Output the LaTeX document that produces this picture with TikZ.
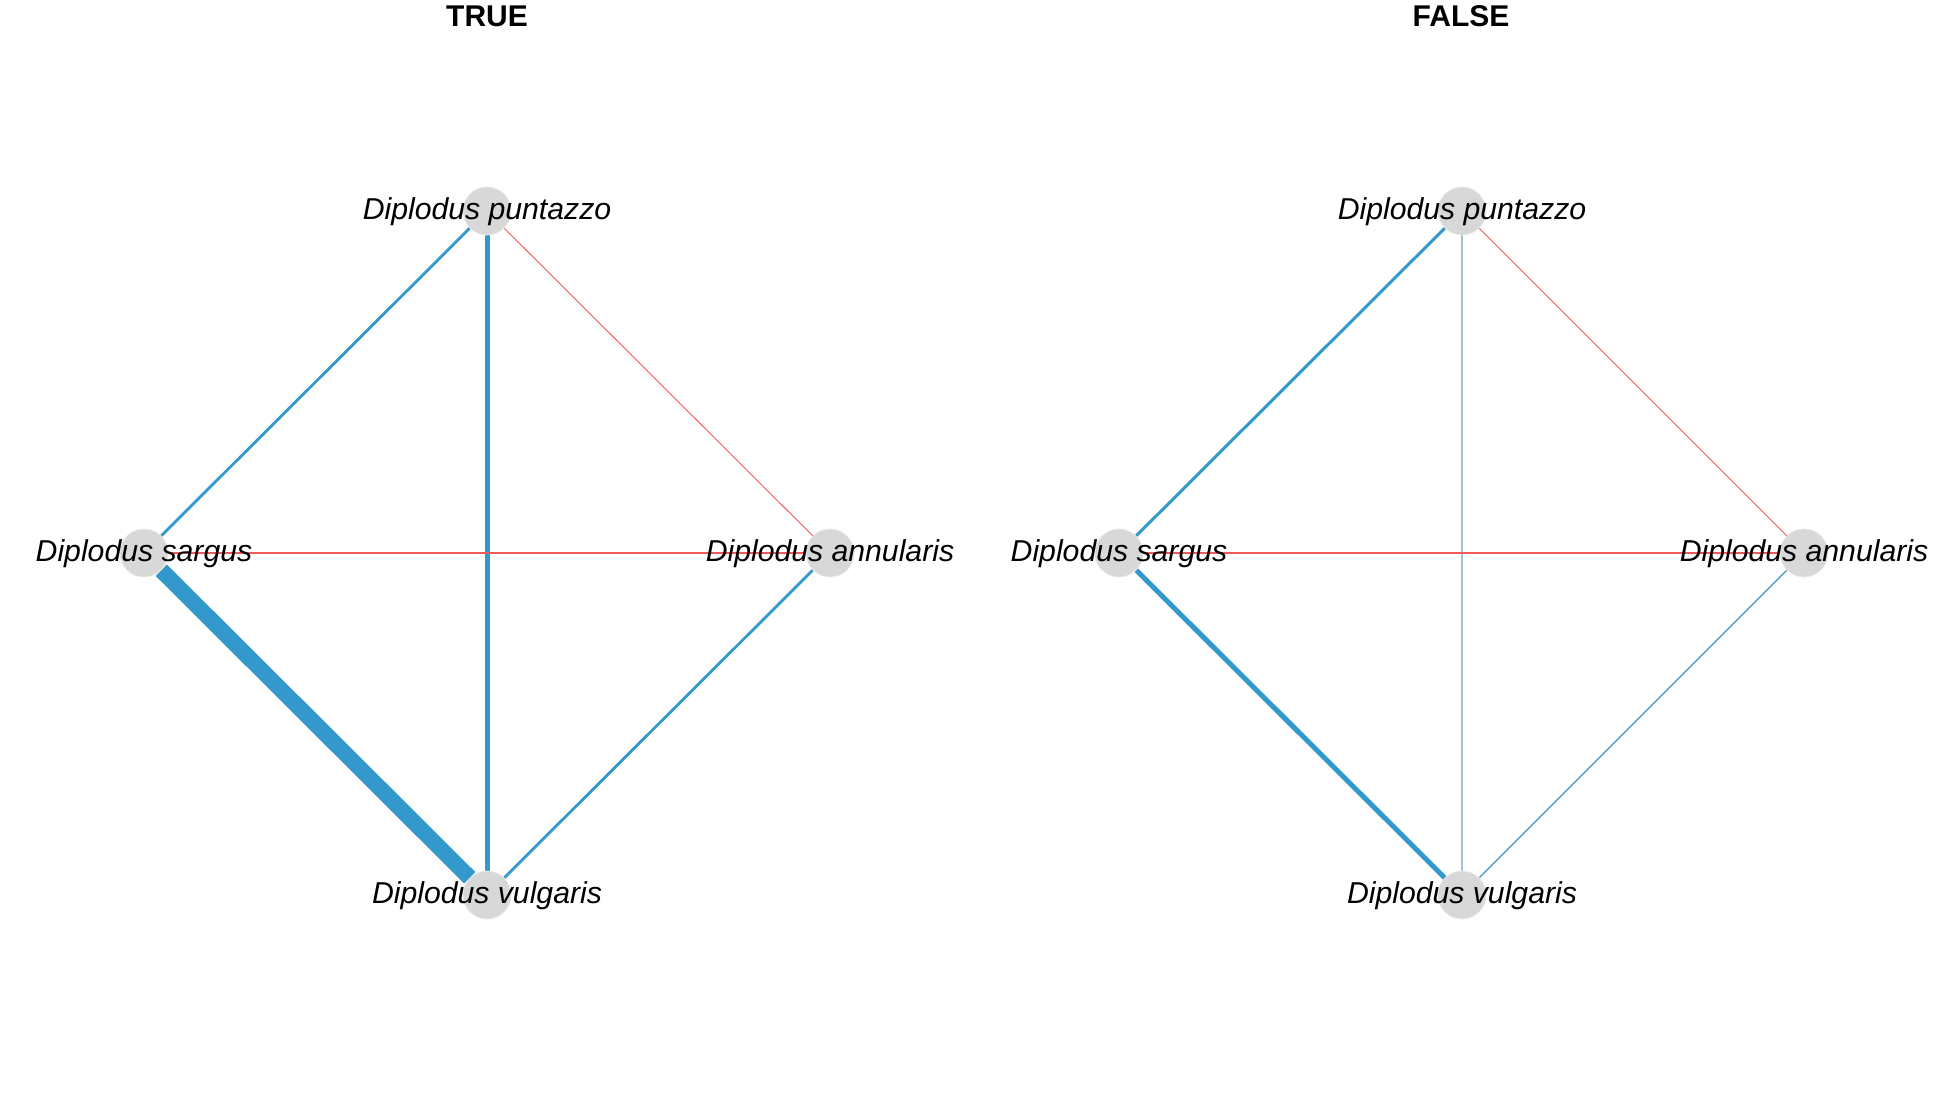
\documentclass[tikz,border=0pt]{standalone}
\usepackage{fontspec}
\setmainfont{Liberation Sans}
\usetikzlibrary{backgrounds}
\definecolor{eblue}{HTML}{3399CC}
\definecolor{ered}{HTML}{F05A5A}
\definecolor{epale}{HTML}{9FC4D0}
\definecolor{vfill}{HTML}{D8D8D8}
\begin{document}
\begin{tikzpicture}[x=0.5pt,y=-0.5pt,
 vert/.style={circle,fill=vfill,draw=vfill!60,line width=0.4pt,minimum size=24pt,inner sep=0pt},
 lab/.style={anchor=base,font=\fontsize{15.1}{17}\selectfont\itshape,inner sep=0pt},
 ttl/.style={anchor=base,font=\fontsize{15}{17}\selectfont\bfseries,inner sep=0pt},
 edge/.style={line cap=butt}]
\useasboundingbox (0,0) rectangle (1950,1107);

% titles
\node[ttl] (t1) at (487,27) {TRUE};
\node[ttl] (t2) at (1461,27) {FALSE};

% left panel nodes
\node[vert] (lp) at (487,211) {};
\node[vert] (ls) at (144,553) {};
\node[vert] (la) at (830,553) {};
\node[vert] (lv) at (487,895) {};
% right panel nodes
\node[vert] (rp) at (1462,211) {};
\node[vert] (rs) at (1119,553) {};
\node[vert] (ra) at (1804,553) {};
\node[vert] (rv) at (1462,895) {};

\begin{pgfonlayer}{background}
% left edges
\draw[edge,eblue,line width=1.4pt] (lp) -- (ls);
\draw[edge,eblue,line width=2.5pt] (lp) -- (lv);
\draw[edge,ered,line width=0.45pt] (lp) -- (la);
\draw[edge,ered,line width=0.55pt] (ls) -- (la);
\draw[edge,eblue,line width=8pt] (ls) -- (lv);
\draw[edge,eblue,line width=1.4pt] (la) -- (lv);
% right edges
\draw[edge,eblue,line width=1.5pt] (rp) -- (rs);
\draw[edge,epale,line width=0.7pt] (rp) -- (rv);
\draw[edge,ered,line width=0.45pt] (rp) -- (ra);
\draw[edge,ered,line width=0.55pt] (rs) -- (ra);
\draw[edge,eblue,line width=2.5pt] (rs) -- (rv);
\draw[edge,eblue!85!gray,line width=0.6pt] (ra) -- (rv);
\end{pgfonlayer}

% labels
\node[lab] (llp) at (487,219.5) {Diplodus puntazzo};
\node[lab] (lls) at (144,561.5) {Diplodus sargus};
\node[lab] (lla) at (830,561.5) {Diplodus annularis};
\node[lab] (llv) at (487,903.5) {Diplodus vulgaris};
\node[lab] (rlp) at (1462,219.5) {Diplodus puntazzo};
\node[lab] (rls) at (1119,561.5) {Diplodus sargus};
\node[lab] (rla) at (1804,561.5) {Diplodus annularis};
\node[lab] (rlv) at (1462,903.5) {Diplodus vulgaris};
\end{tikzpicture}
\end{document}
